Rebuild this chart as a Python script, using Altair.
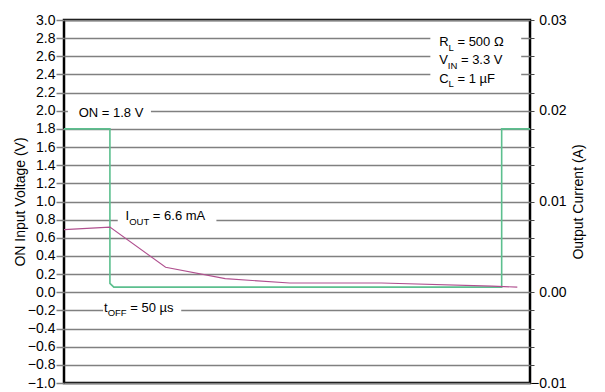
import altair as alt
import pandas as pd

# ---- data (time axis in arbitrary units across the plot, 0..477) ----
on_t = [0, 47, 47, 51, 448, 448, 477]
on_v = [1.8, 1.8, 0.098, 0.056, 0.056, 1.8, 1.8]

iout_t = [0, 47, 104, 165, 231, 325, 438, 464]
iout_a = [0.0069, 0.00718, 0.00276, 0.0015, 0.00102, 0.00102, 0.00067, 0.00056]

left_ticks = [round(-1.0 + 0.2 * i, 1) for i in range(21)]
right_ticks = [round(-0.01 + 0.002 * i, 3) for i in range(21)]

W_PLOT = 466
H_PLOT = 363
FONT = "Liberation Sans"
GREEN = "#5cbf8e"
PURPLE = "#b0508f"

on_df = pd.DataFrame({"t": on_t, "v": on_v, "i": range(len(on_t))})
io_df = pd.DataFrame({"t": iout_t, "a": iout_a, "i": range(len(iout_t))})

# ---- annotation layout ----
AW = {"I": 278, "O": 778, "U": 722, "T": 611, "F": 611, "R": 722, "L": 556, "V": 667,
      "N": 722, "C": 722, "t": 278, " ": 278, "=": 584, ".": 278, "m": 833, "A": 667,
      "µ": 576, "s": 500, "Ω": 768}


def tw(s, size):
    return sum(AW.get(c, 556) for c in s) / 1000.0 * size


MAIN = 13
SUB = 9.5
px_per_v = H_PLOT / 4.0
sub_drop = 4.5 / px_per_v
unit_per_px = 477.0 / W_PLOT

annotations = [
    (15, 1.932, [("ON = 1.8 V", False)]),
    (63, 0.794, [("I", False), ("OUT", True), (" = 6.6 mA", False)]),
    (41, -0.215, [("t", False), ("OFF", True), (" = 50 µs", False)]),
    (384, 2.712, [("R", False), ("L", True), (" = 500 Ω", False)]),
    (384, 2.514, [("V", False), ("IN", True), (" = 3.3 V", False)]),
    (384, 2.311, [("C", False), ("L", True), (" = 1 µF", False)]),
]
rows = []
for x0, y0, pieces in annotations:
    x = x0
    for s, sub in pieces:
        size = SUB if sub else MAIN
        stripped = s.lstrip(" ")
        x += tw(s[: len(s) - len(stripped)], size) * unit_per_px
        rows.append({"x": x, "y": y0 - (sub_drop if sub else 0), "text": stripped, "size": size})
        x += tw(stripped, size) * unit_per_px
txt_df = pd.DataFrame(rows)

boxes = pd.DataFrame({
    "x": [4, 55, 40, 375], "x2": [89, 156, 120, 468],
    "y": [1.95, 0.75, -0.25, 2.35], "y2": [2.05, 0.85, -0.15, 2.85],
})

xs = alt.Scale(domain=[0, 477], nice=False, zero=False)
ys_left = alt.Scale(domain=[-1.0, 3.0], nice=False, zero=False)
ys_right = alt.Scale(domain=[-0.01, 0.03], nice=False, zero=False)

left_axis = alt.Axis(values=left_ticks, format=".1f", title="ON Input Voltage (V)",
                     grid=True, gridColor="#808080", gridWidth=1.5,
                     tickColor="#808080", tickSize=8, tickWidth=1.5,
                     labelPadding=1, titlePadding=0, domain=False)

rects = alt.Chart(boxes).mark_rect(color="white").encode(
    x=alt.X("x:Q", scale=xs, axis=None), x2="x2:Q",
    y=alt.Y("y:Q", scale=ys_left, axis=left_axis), y2="y2:Q",
)

green = alt.Chart(on_df).mark_line(color=GREEN, strokeWidth=1.6).encode(
    x=alt.X("t:Q", scale=xs, axis=None),
    y=alt.Y("v:Q", scale=ys_left, axis=left_axis),
    order="i:Q",
)

texts = alt.Chart(txt_df).mark_text(align="left", baseline="alphabetic", font=FONT,
                                    color="black").encode(
    x=alt.X("x:Q", scale=xs, axis=None),
    y=alt.Y("y:Q", scale=ys_left, axis=left_axis),
    text="text:N",
    size=alt.Size("size:Q", scale=None, legend=None),
)

purple = alt.Chart(io_df).mark_line(color=PURPLE, strokeWidth=1.1).encode(
    x=alt.X("t:Q", scale=xs, axis=None),
    y=alt.Y("a:Q", scale=ys_right,
            axis=alt.Axis(orient="right", values=right_ticks, title="Output Current (A)",
                          labelExpr="abs(datum.value*100 - round(datum.value*100)) < 0.001 ? format(datum.value, '.2f') : ''",
                          labelAlign="right", labelPadding=32,
                          titleAngle=270, titleBaseline="top", titlePadding=5,
                          grid=False, tickColor="#444444", tickSize=4, tickWidth=1,
                          domain=False)),
    order="i:Q",
)

chart = alt.layer(alt.layer(rects, green, texts), purple).resolve_scale(
    y="independent"
).properties(width=W_PLOT, height=H_PLOT).configure_view(
    stroke="black", strokeWidth=2.5
).configure_axis(
    labelFont=FONT, labelFontSize=14, labelColor="black",
    titleFont=FONT, titleFontSize=14, titleFontWeight="normal", titleColor="black",
)

chart.save("out.html", embed_options={"renderer": "svg", "actions": False})
